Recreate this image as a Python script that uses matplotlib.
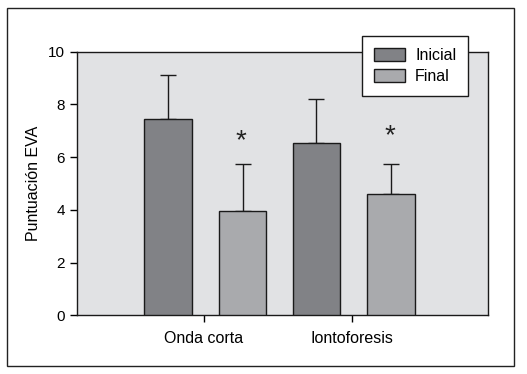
import matplotlib
matplotlib.use("Agg")
import matplotlib.pyplot as plt
from matplotlib.patches import Rectangle
import numpy as np

plt.rcParams['font.family'] = ['Liberation Sans', 'DejaVu Sans']

categories = ["Onda corta", "Iontoforesis"]
series_names = ["Inicial", "Final"]
inicial = [7.43, 6.52]
final = [3.95, 4.59]
inicial_err = [1.67, 1.67]
final_err = [1.78, 1.14]
yticks = [0, 2, 4, 6, 8, 10]
star_y = [6.62, 6.78]

fig = plt.figure(figsize=(5.27, 3.74), dpi=100)
fig.patch.set_facecolor('white')
# outer frame
fig.patches.append(Rectangle((7/527, 1 - 366/374), (514-7)/527, (366-8)/374,
                             transform=fig.transFigure, fill=False,
                             edgecolor='#222222', linewidth=1.0))

ax = fig.add_axes([77/527, 1 - 315.3/374, (488-77)/527, (315.3-51.7)/374])
ax.set_facecolor('#e1e2e4')

x = np.arange(len(categories))
w = 0.32
off = 0.252
dark = '#818286'
light = '#a9aaad'
ax.bar(x - off + 0.01, inicial, w, color=dark, edgecolor='#1a1a1a', linewidth=1.0,
       label=series_names[0], zorder=3)
ax.bar(x + off + 0.01, final, w, color=light, edgecolor='#1a1a1a', linewidth=1.0,
       label=series_names[1], zorder=3)
ax.errorbar(x - off + 0.01, inicial, yerr=[np.zeros(2), inicial_err], fmt='none',
            ecolor='#1a1a1a', elinewidth=1.0, capsize=5.5, capthick=1.0, zorder=2)
ax.errorbar(x + off + 0.01, final, yerr=[np.zeros(2), final_err], fmt='none',
            ecolor='#1a1a1a', elinewidth=1.0, capsize=5.5, capthick=1.0, zorder=2)

for xi, sy in zip(x + off, star_y):
    ax.text(xi, sy, '*', ha='center', va='center', fontsize=20, color='#222222')

ax.set_xlim(-0.853, 1.913)
ax.set_ylim(0, 10)
ax.set_yticks(yticks)
ax.set_xticks(x)
ax.set_xticklabels(categories, fontsize=11.5)
ax.tick_params(axis='y', labelsize=11, length=5, width=1.0, direction='out', pad=3.5)
ax.tick_params(axis='x', length=5, width=1.0, direction='out', pad=6)
ax.set_ylabel('Puntuación EVA', fontsize=11.5, labelpad=5)
for s in ax.spines.values():
    s.set_linewidth(1.0)
    s.set_color('#1a1a1a')

leg = ax.legend(loc='upper left', bbox_to_anchor=((361.7-77)/411, 1 + (51.7-35.7)/263.6),
                fontsize=11.5, frameon=True, fancybox=False, framealpha=1,
                edgecolor='#1a1a1a', borderpad=0.75, handlelength=1.95, handleheight=0.92,
                labelspacing=0.38, handletextpad=0.65, borderaxespad=0)
leg.get_frame().set_linewidth(1.0)
leg.set_zorder(5)

fig.savefig('out.png', dpi=100)
